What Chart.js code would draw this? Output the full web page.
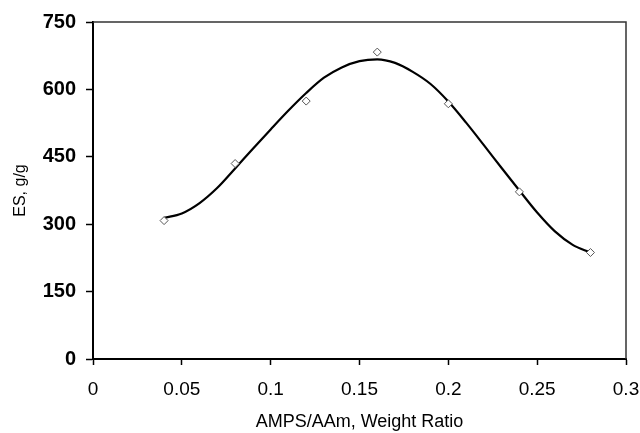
<!DOCTYPE html>
<html>
<head>
<meta charset="utf-8">
<script src="https://cdn.jsdelivr.net/npm/chart.js@4/dist/chart.umd.min.js"></script>
<style>
	html, body { margin: 0; padding: 0; background: #fff; }
	#wrap { width: 640px; height: 433px; }
</style>
</head>
<body>
<div id="wrap"><canvas id="chart-es"></canvas></div>
<script>
// Measured points (open diamonds)
const ratio = [0.04, 0.08, 0.12, 0.16, 0.2, 0.24, 0.28];
const swelling = [308, 435, 574, 683, 568, 372, 237];

// Fitted curve
const curveRatio = [0.04, 0.05, 0.06, 0.07, 0.08, 0.09, 0.1, 0.11, 0.12, 0.13, 0.14, 0.15, 0.16,
	0.17, 0.18, 0.19, 0.2, 0.21, 0.22, 0.23, 0.24, 0.25, 0.26, 0.27, 0.28];
const curveSwelling = [314, 324, 347, 381, 424, 468, 511, 553, 592, 626, 649, 663, 667,
	659, 639, 612, 573, 526, 476, 425, 375, 326, 284, 254, 237];

// Tick labels
const xTicks = ["0", "0.05", "0.1", "0.15", "0.2", "0.25", "0.3"];
const yTicks = ["0", "150", "300", "450", "600", "750"];

const FONT = "'Liberation Sans', Arial, sans-serif";

const toXY = (xs, ys) => xs.map((x, i) => ({ x: x, y: ys[i] }));

// Thin frame on top and right
const frame = {
	id: "frame",
	afterDraw(chart) {
		const { ctx, chartArea: a } = chart;
		ctx.save();
		ctx.strokeStyle = "#333";
		ctx.lineWidth = 1.5;
		ctx.beginPath();
		ctx.moveTo(a.left, a.top);
		ctx.lineTo(a.right, a.top);
		ctx.lineTo(a.right, a.bottom);
		ctx.stroke();
		ctx.restore();
	},
};

const DATA = {
	datasets: [
		{
			label: "fit",
			data: toXY(curveRatio, curveSwelling),
			showLine: true,
			borderColor: "#000",
			borderWidth: 2.2,
			pointRadius: 0,
			cubicInterpolationMode: "monotone",
			order: 2,
		},
		{
			label: "ES",
			data: toXY(ratio, swelling),
			showLine: false,
			pointStyle: "rectRot",
			pointRadius: 4,
			pointBorderWidth: 1,
			pointBorderColor: "#555",
			pointBackgroundColor: "#fff",
			order: 1,
		},
	],
};

const CONFIG = {
	type: "scatter",
	data: DATA,
	plugins: [frame],
	options: {
		responsive: true,
		maintainAspectRatio: false,
		animation: false,
		layout: {
			padding: { top: 22, right: 0, left: 0, bottom: 0 },
		},
		plugins: {
			legend: { display: false },
			tooltip: { enabled: false },
		},
		scales: {
			x: {
				type: "linear",
				min: 0,
				max: 0.3,
				afterFit: (s) => {
					s.height = 74;
					s.paddingLeft = 0;
					s.paddingRight = 14;
				},
				border: { display: true, color: "#000", width: 2 },
				grid: {
					drawOnChartArea: false,
					drawTicks: true,
					tickLength: 6,
					tickWidth: 1.5,
					tickColor: "#000",
				},
				ticks: {
					stepSize: 0.05,
					padding: 13,
					maxRotation: 0,
					color: "#000",
					font: { family: FONT, size: 19 },
					callback: (v, i) => xTicks[i],
				},
				title: {
					display: true,
					text: "AMPS/AAm, Weight Ratio",
					color: "#000",
					font: { family: FONT, size: 18 },
					padding: { top: 0, bottom: 0 },
				},
			},
			y: {
				min: 0,
				max: 750,
				afterFit: (s) => { s.width = 93; },
				border: { display: true, color: "#000", width: 2 },
				grid: {
					drawOnChartArea: false,
					drawTicks: true,
					tickLength: 7,
					tickWidth: 1.5,
					tickColor: "#000",
				},
				ticks: {
					stepSize: 150,
					padding: 10,
					color: "#000",
					font: { family: FONT, size: 20, weight: "bold" },
					callback: (v, i) => yTicks[i],
				},
				title: {
					display: true,
					text: "ES, g/g",
					color: "#000",
					font: { family: FONT, size: 16 },
					padding: { top: 11, bottom: 0 },
				},
			},
		},
	},
};

const WRAPPER = document.getElementById("chart-es");
if (WRAPPER) {
	new Chart(WRAPPER, CONFIG);
}
</script>
</body>
</html>
